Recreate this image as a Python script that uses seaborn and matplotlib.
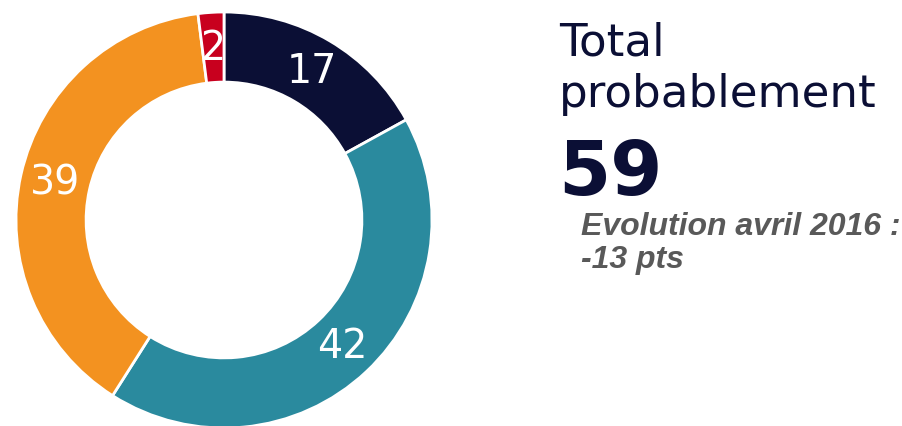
import matplotlib
matplotlib.use("Agg")
import matplotlib.pyplot as plt
import seaborn as sns

# Données
categories = ["Certainement", "Probablement", "Probablement pas", "Certainement pas"]
values = [17, 42, 39, 2]
colors = ["#0b0f35", "#2a8a9e", "#f39220", "#c8001e"]
total_label = "59"
evolution_lines = ["Evolution avril 2016 :", "-13 pts"]

sns.set_theme(style="white")
plt.rcParams["font.family"] = ["DejaVu Sans"]

W, H = 902, 427
fig = plt.figure(figsize=(W / 100, H / 100), dpi=100)

# Donut : centre (224, 221) px, rayon 208 px
cx, cy, r = 224, 221, 208
ax = fig.add_axes([(cx - r) / W, (H - cy - r) / H, 2 * r / W, 2 * r / H])
wedges, texts, autotexts = ax.pie(
    values, colors=colors, startangle=90, counterclock=False, radius=1,
    autopct=lambda p: f"{p:.0f}", pctdistance=0.83,
    wedgeprops=dict(width=0.337, edgecolor="white", linewidth=2),
    textprops=dict(color="white", fontsize=28.5),
)
ax.set_xlim(-1, 1)
ax.set_ylim(-1, 1)
ax.set_aspect("equal")
ax.axis("off")

navy = "#0b0f35"
fig.text(559 / W, 1 - 55 / H, "Total", fontsize=32.5, color=navy, va="baseline")
fig.text(559 / W, 1 - 107 / H, "probablement", fontsize=32.5, color=navy, va="baseline")
fig.text(558 / W, 1 - 195 / H, total_label, fontsize=54, fontweight="bold",
         color=navy, va="baseline")
for i, line in enumerate(evolution_lines):
    fig.text(581 / W, 1 - (235 + 33 * i) / H, line, fontsize=23, fontweight="bold",
             fontstyle="italic", family=["Liberation Sans"], color="#595959",
             va="baseline")

fig.savefig("out.png", dpi=100)
plt.close()
